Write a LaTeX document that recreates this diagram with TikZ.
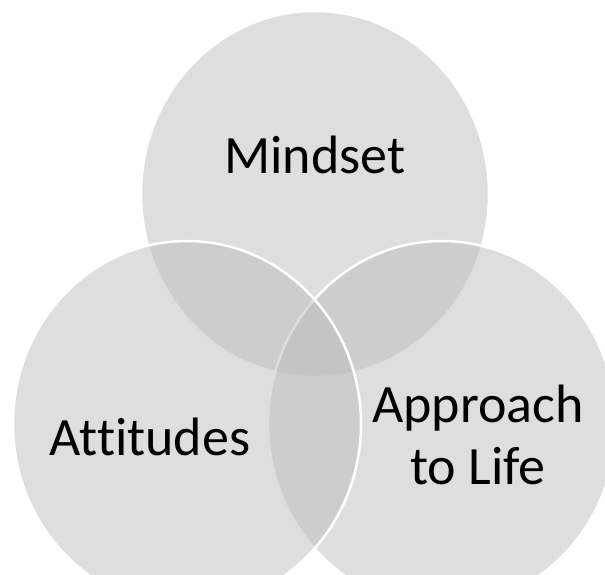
\documentclass[tikz,border=0pt]{standalone}
\usepackage{fontspec}
\setmainfont{Carlito}[Ligatures={NoCommon}]
\usepackage{tikz}
\definecolor{venngray}{RGB}{187,187,187}
\newcommand{\venncircle}[2]{\draw[venn] (#1,#2) ellipse [x radius=174pt, y radius=183pt];}
\tikzset{
  venn/.style={fill=venngray, fill opacity=0.485, draw=white, line width=2.5pt},
  venntext/.style={anchor=base, font=\fontsize{54}{62}\selectfont, align=center, inner sep=0pt}
}

\begin{document}
\begin{tikzpicture}[x=1pt,y=-1pt]
\useasboundingbox (0,0) rectangle (605,575);
\clip (0,0) rectangle (605,575);
\venncircle{315}{194}\venncircle{442}{424}\venncircle{187}{424}
\node[venntext] (mindset) at (315,174) {Mindset};
\node[venntext] (attitudes) at (150,455) {Attitudes};
\node[venntext] (approach) at (478,484) {Approach\\to Life};
\end{tikzpicture}
\end{document}
